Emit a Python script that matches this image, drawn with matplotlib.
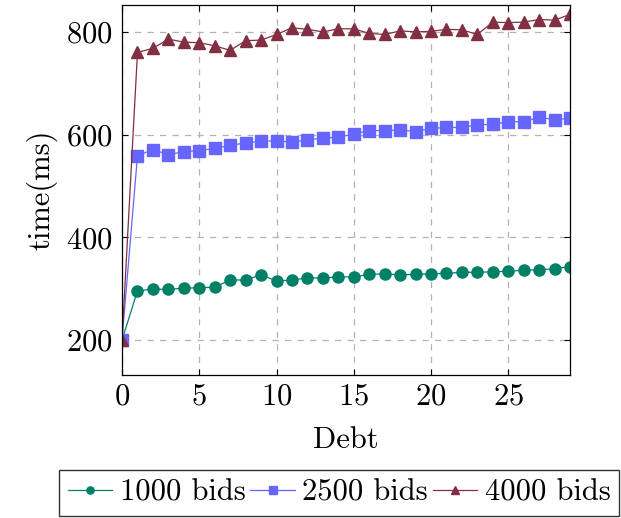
import matplotlib
matplotlib.use('Agg')
import matplotlib.pyplot as plt
import numpy as np

plt.rcParams['font.family'] = 'serif'
plt.rcParams['font.serif'] = ['cmr10', 'DejaVu Serif']
plt.rcParams['axes.formatter.use_mathtext'] = True
plt.rcParams['mathtext.fontset'] = 'cm'

# data
debt = list(range(30))
bids_1000 = [200, 296, 299, 299, 301, 302, 303, 317, 317, 327,
             315, 317, 321, 321, 323, 323, 328, 329, 327, 328,
             329, 330, 332, 332, 333, 334, 336, 337, 339, 343]
bids_2500 = [200, 559, 571, 561, 567, 569, 573, 579, 584, 587,
             588, 585, 590, 593, 595, 601, 608, 608, 609, 606,
             612, 614, 614, 619, 620, 625, 625, 634, 629, 632]
bids_4000 = [200, 760, 768, 786, 780, 779, 773, 764, 783, 784,
             795, 808, 805, 800, 806, 806, 797, 795, 802, 800,
             801, 805, 804, 795, 819, 818, 819, 824, 823, 834]
labels = ['1000 bids', '2500 bids', '4000 bids']

fig = plt.figure(figsize=(6.21, 5.18), dpi=100)
ax = fig.add_axes([0.1965, 0.276, 0.7215, 0.714])

series = [
    (bids_1000, '#008066', 'o'),
    (bids_2500, '#6666ff', 's'),
    (bids_4000, '#822e43', '^'),
]
for (vals, col, mk), lab in zip(series, labels):
    ax.plot(debt, vals, color=col, marker=mk, markersize=8 if mk != '^' else 8.5,
            markeredgecolor=col, linewidth=0.9, label=lab)

ax.set_xlim(0, 29)
ax.set_ylim(132, 852)
ax.set_xticks([0, 5, 10, 15, 20, 25])
ax.set_yticks([200, 400, 600, 800])
ax.grid(True, color='#b3b3b3', linestyle=(0, (5, 5)), linewidth=0.9)
ax.set_axisbelow(True)
ax.tick_params(direction='in', top=True, right=True, labelsize=22, length=4)
ax.tick_params(axis='y', pad=7)
ax.tick_params(axis='x', pad=6)
ax.set_xlabel('Debt', fontsize=22, labelpad=11)
ax.set_ylabel('time(ms)', fontsize=22, labelpad=6)
for s in ax.spines.values():
    s.set_linewidth(0.9)

fig.legend(loc='lower left', bbox_to_anchor=(59 / 621, 2 / 518), ncol=3, fontsize=22,
           frameon=True, fancybox=False, edgecolor='black', handlelength=1.45,
           handletextpad=0.25, columnspacing=0.15, borderpad=0.3,
           borderaxespad=0.0, markerscale=0.65)

fig.savefig('out.png', dpi=100)
